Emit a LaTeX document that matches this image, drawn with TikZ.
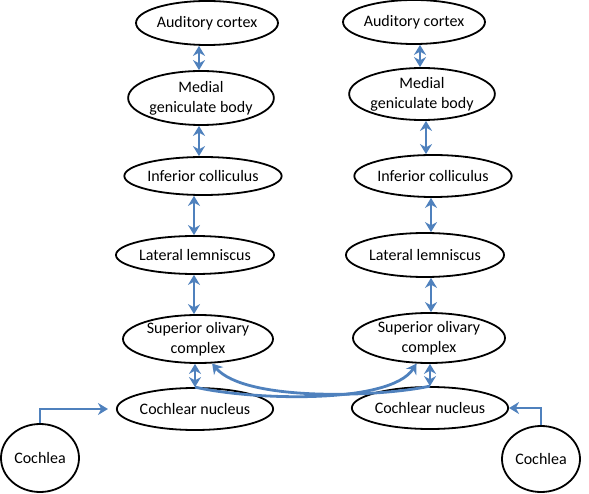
\documentclass[tikz,border=0pt]{standalone}
\usepackage{fontspec}
\setmainfont{Carlito}
\usetikzlibrary{shapes.geometric,arrows.meta}
\definecolor{nerve}{RGB}{79,129,189}
\tikzset{
  station/.style={draw=black, line width=1.8pt, ellipse, inner sep=0pt, align=center,
    font=\fontsize{16}{20}\selectfont},
  tract/.style={draw=nerve, line width=2.8pt, -{Stealth[length=10pt,width=12pt]}},
  twoway/.style={tract, {Stealth[length=10pt,width=12pt]}-{Stealth[length=10pt,width=12pt]}},
}
\begin{document}
\begin{tikzpicture}[x=1pt,y=-1pt]
		%%%%% START %%%%%
		\useasboundingbox (0,0) rectangle (589,494);
		
		% left pathway
		\node[station, minimum width=120pt, minimum height=44pt] (ac1) at (207,23) {Auditory cortex};
		\node[station, minimum width=130pt, minimum height=54pt] (mgb1) at (201,98) {Medial\\geniculate body};
		\node[station, minimum width=140pt, minimum height=38pt] (ic1) at (203,176) {Inferior colliculus};
		\node[station, minimum width=144pt, minimum height=38pt] (ll1) at (195,255) {Lateral lemniscus};
		\node[station, minimum width=150pt, minimum height=48pt] (soc1) at (198,339) {Superior olivary\\complex};
		\node[station, minimum width=144pt, minimum height=42pt] (cn1) at (195,409) {Cochlear nucleus};
		\node[station, minimum width=78pt, minimum height=68pt] (coch1) at (40,458) {Cochlea};
		
		% right pathway
		\node[station, minimum width=114pt, minimum height=44pt] (ac2) at (414,22) {Auditory cortex};
		\node[station, minimum width=130pt, minimum height=52pt] (mgb2) at (422,94) {Medial\\geniculate body};
		\node[station, minimum width=140pt, minimum height=42pt] (ic2) at (433,176) {Inferior colliculus};
		\node[station, minimum width=144pt, minimum height=44pt] (ll2) at (425,255) {Lateral lemniscus};
		\node[station, minimum width=152pt, minimum height=50pt] (soc2) at (429,338) {Superior olivary\\complex};
		\node[station, minimum width=146pt, minimum height=42pt] (cn2) at (430,408) {Cochlear nucleus};
		\node[station, minimum width=78pt, minimum height=66pt] (coch2) at (541,459) {Cochlea};
		
		% columns of the vertical links
		\coordinate (l1) at (199,0);
		\coordinate (l2) at (194,0);
		\coordinate (r1) at (420,0);
		\coordinate (r2) at (426,0);
		\coordinate (r3) at (431,0);
		
		\draw[twoway] (ac1.south -| l1) -- (mgb1.north -| l1);
		\draw[twoway] (mgb1.south -| l1) -- (ic1.north -| l1);
		\draw[twoway] (ic1.south -| l2) -- (ll1.north -| l2);
		\draw[twoway] (ll1.south -| l2) -- (soc1.north -| l2);
		\draw[twoway] (soc1.south -| cn1) -- (cn1.north);
		
		\draw[twoway] (ac2.south -| r1) -- (mgb2.north -| r1);
		\draw[twoway] (mgb2.south -| r2) -- (ic2.north -| r2);
		\draw[twoway] (ic2.south -| r3) -- (ll2.north -| r3);
		\draw[twoway] (ll2.south -| r3) -- (soc2.north -| r3);
		\draw[twoway] (soc2.south -| cn2) -- (cn2.north);
		
		% input from each ear
		\draw[tract, shorten >=8pt] (coch1.north) |- (cn1.west);
		\draw[tract] (coch2.north) |- (cn2.east);
		
		% crossing fibres
		\draw[tract] (cn1.north) .. controls (250,400) and (390,405) .. (soc2.244);
		\draw[tract] (cn2.north) .. controls (380,397) and (245,402) .. (soc1.300);
		
		%%%%% END %%%%%
	\end{tikzpicture}
\end{document}
